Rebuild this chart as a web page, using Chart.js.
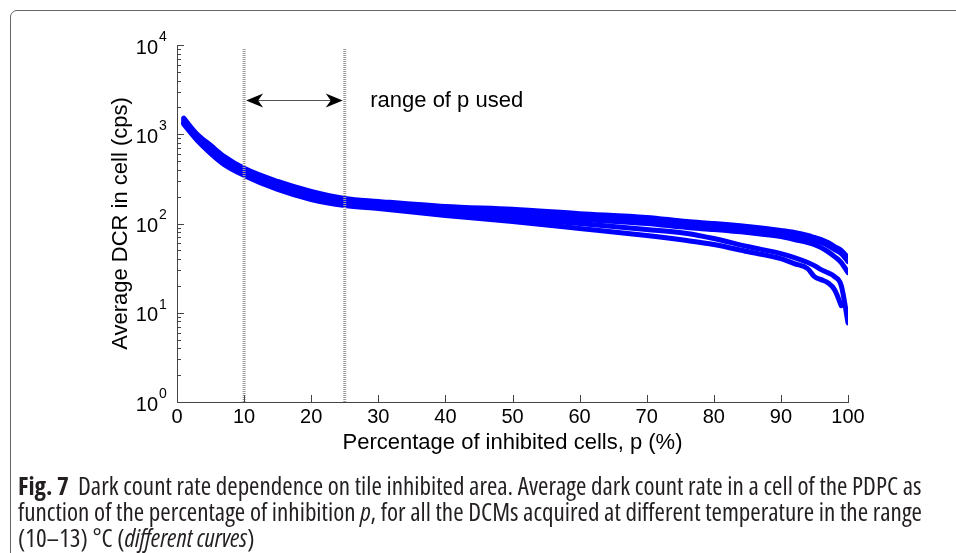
<!DOCTYPE html>
<html><head><meta charset="utf-8">
<script src="https://cdn.jsdelivr.net/npm/chart.js@4.4.0/dist/chart.umd.min.js"></script>
<style>
html,body{margin:0;padding:0;background:#fff;width:956px;height:553px;overflow:hidden}
#frame{position:absolute;left:10px;top:10px;width:990px;height:600px;border:1px solid #666;border-radius:7px;box-sizing:border-box}
#wrap{position:absolute;left:0;top:0;width:956px;height:470px}
#cap{position:absolute;left:18px;top:472px;font-family:"Open Sans",sans-serif;font-stretch:condensed;font-size:20px;line-height:26px;color:#231f20;white-space:nowrap}
#cap span{display:inline-block}
</style></head><body>
<div id="frame"></div>
<div id="wrap"><canvas id="c" width="956" height="470"></canvas></div>
<div id="cap"><span id="l1"><b>Fig. 7</b>&nbsp; Dark count rate dependence on tile inhibited area. Average dark count rate in a cell of the PDPC as</span><br><span>function of the percentage of inhibition <i>p</i>, for all the DCMs acquired at different temperature in the range</span><br><span>(10–13) °C (<i>different curves</i>)</span></div>
<script>
// ---- data ----
const pValues = [1,3,5,7,10,15,20,25,30,40,50,60,70,76,80,85,90,92,94,95,96,97,98,99,100];
const curveA = [1513,1000,752,566,415,296,229,191,177,155,144,129,117,105,100,92.5,83.4,79.3,73.3,69.7,66.1,61.2,55.2,49.8,41.5];
const curveB = [1437,950,697,524,394,274,212,177,164,144,133,120,108,100,95,88,79.3,73.3,67.8,64.4,61.2,56.6,51.0,46.0,37.4];
const curveC = [1364,902,661,497,374,260,201,168,155,136,123,111,100,90,85.6,79.3,71.5,66.1,61.2,58.1,53.7,48.5,42.6,36.5,28.1];
const curveD = [1329,879,628,472,356,247,191,164,151,129,114,100,85.6,77.2,67.8,55.2,46.0,41.5,36.5,33.7,30.4,28.1,25.4,20.1,7.7];
const curveE = [1295,857,612,460,346,241,186,159,147,123,105,88,73.3,64.4,58.1,48.5,40.4,35.5,31.2,25.4,23.5,21.7,18.1,12.0,null];
const yTickExponents = ['0','1','2','3','4'];
const markerP = [10, 25];
const markerTop = 9250;
const arrowLevel = 2410;
const annotationText = 'range of p used';
const annotationP = 28.8;
const xTitle = 'Percentage of inhibited cells, p (%)';
const yTitle = 'Average DCR in cell (cps)';

// fit caption width to the reference line length
(function(){
  const cap = document.getElementById('cap');
  const w = document.getElementById('l1').getBoundingClientRect().width;
  cap.style.fontSize = (20 * 904 / w) + 'px';
})();

const FONT = '"Liberation Sans", Arial, sans-serif';
const curves = [curveA, curveB, curveC, curveD, curveE];
const AREA = {left: 177, right: 848, top: 45, bottom: 402};

const datasets = [];
markerP.forEach(p => datasets.push({
  data: [{x: p, y: 1}, {x: p, y: markerTop}],
  borderColor: '#9a9a9a', borderWidth: 3, borderDash: [1, 1],
  pointRadius: 0, tension: 0
}));
curves.forEach(c => datasets.push({
  data: pValues.map((p, i) => ({x: p, y: c[i]})),
  borderColor: '#0000ff', borderWidth: 5, pointRadius: 0,
  cubicInterpolationMode: 'monotone', borderCapStyle: 'round', borderJoinStyle: 'round'
}));

const decor = {
  id: 'decor',
  afterDraw(chart) {
    const {ctx, chartArea: a, scales: {x, y}} = chart;
    ctx.save();
    // inward tick marks
    ctx.strokeStyle = '#444'; ctx.lineWidth = 1;
    ctx.beginPath();
    x.ticks.forEach(t => {
      const px = Math.round(x.getPixelForValue(t.value)) + 0.5;
      ctx.moveTo(px, a.bottom); ctx.lineTo(px, a.bottom - 7);
    });
    for (let e = 0; e < yTickExponents.length; e++) {
      const base = Math.pow(10, Number(yTickExponents[e]));
      const maxM = e === yTickExponents.length - 1 ? 1 : 9;
      for (let m = 1; m <= maxM; m++) {
        const py = Math.round(y.getPixelForValue(m * base)) + 0.5;
        ctx.moveTo(a.left, py); ctx.lineTo(a.left + (m === 1 ? 7 : 4), py);
      }
    }
    ctx.stroke();
    // y tick labels with superscript exponents
    ctx.fillStyle = '#000';
    yTickExponents.forEach(ex => {
      const py = y.getPixelForValue(Math.pow(10, Number(ex)));
      ctx.font = '20px ' + FONT; ctx.textAlign = 'right'; ctx.textBaseline = 'middle';
      ctx.fillText('10', a.left - 19, py + 3);
      ctx.font = '14px ' + FONT; ctx.textAlign = 'left';
      ctx.fillText(ex, a.left - 18, py - 8);
    });
    // double arrow
    const x1 = x.getPixelForValue(markerP[0]) + 2, x2 = x.getPixelForValue(markerP[1]) - 2;
    const ay = Math.round(y.getPixelForValue(arrowLevel)) + 0.5;
    ctx.strokeStyle = '#555'; ctx.lineWidth = 1;
    ctx.beginPath(); ctx.moveTo(x1 + 10, ay); ctx.lineTo(x2 - 10, ay); ctx.stroke();
    ctx.fillStyle = '#000';
    const head = (tip, dir) => {
      ctx.beginPath();
      ctx.moveTo(tip, ay);
      ctx.lineTo(tip + dir * 17, ay - 7);
      ctx.lineTo(tip + dir * 12, ay);
      ctx.lineTo(tip + dir * 17, ay + 7);
      ctx.closePath(); ctx.fill();
    };
    head(x1, 1); head(x2, -1);
    ctx.font = '22px ' + FONT; ctx.textAlign = 'left'; ctx.textBaseline = 'middle';
    ctx.fillText(annotationText, x.getPixelForValue(annotationP), ay);
    ctx.restore();
  }
};

const chart = new Chart(document.getElementById('c'), {
  type: 'line',
  data: {datasets},
  options: {
    responsive: false, animation: false,
    layout: {padding: {left: 0, right: 108, top: 45, bottom: 15}},
    plugins: {legend: {display: false}, tooltip: {enabled: false}},
    scales: {
      x: {
        type: 'linear', min: 0, max: 100,
        grid: {display: false, drawTicks: false},
        border: {display: true, color: '#444', width: 1},
        ticks: {stepSize: 10, color: '#000', padding: 5, maxRotation: 0,
                font: {family: FONT, size: 20, lineHeight: 1}},
        title: {display: true, text: xTitle, color: '#000', padding: {top: -2.2, bottom: 0},
                font: {family: FONT, size: 22}}
      },
      y: {
        type: 'logarithmic', min: 1, max: 10000,
        grid: {display: false, drawTicks: false},
        border: {display: true, color: '#444', width: 1},
        ticks: {display: false},
        title: {display: true, text: yTitle, color: '#000', padding: {top: 107.8, bottom: 42.8},
                font: {family: FONT, size: 22}}
      }
    }
  },
  plugins: [decor]
});
// align the plot area with the reference frame
(function(){
  const a = chart.chartArea, pad = chart.options.layout.padding;
  pad.bottom += a.bottom - AREA.bottom;
  pad.top += AREA.top - a.top;
  pad.left += AREA.left - a.left;
  pad.right += a.right - AREA.right;
  chart.update();
})();
</script>
</body></html>
